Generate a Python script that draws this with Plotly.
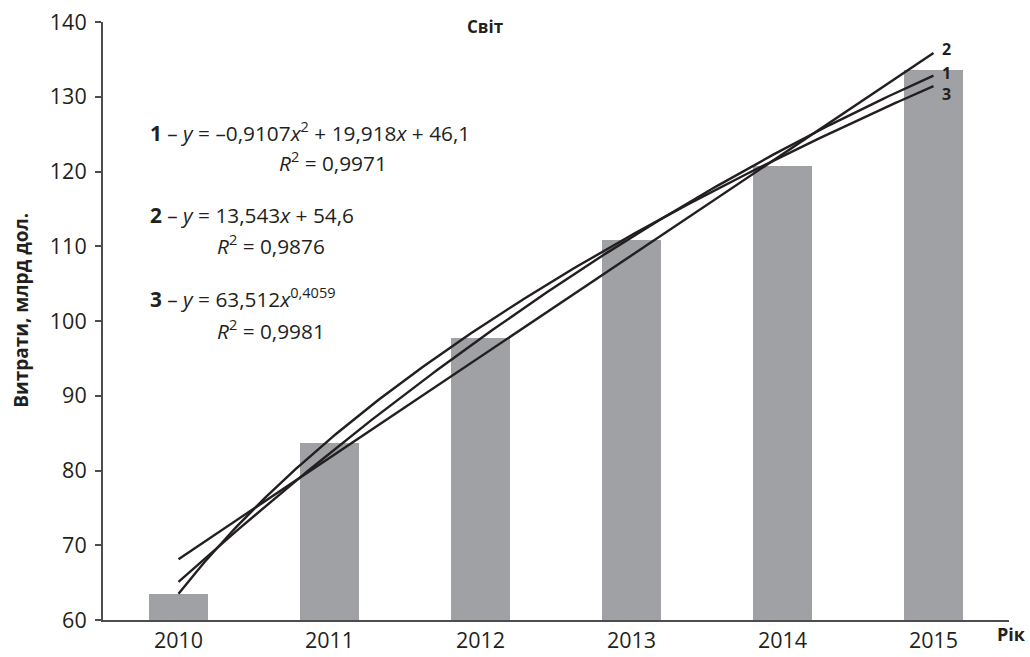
import numpy as np
import plotly.graph_objects as go

# Annual spending, bn USD
years = ["2010", "2011", "2012", "2013", "2014", "2015"]
spending = [63.5, 83.7, 97.7, 110.8, 120.7, 133.6]

# Trend-line coefficients (x = 1 for 2010 ... 6 for 2015)
poly_coef = [-0.9107, 19.918, 46.1]   # a*x^2 + b*x + c
lin_coef = [13.543, 54.6]             # k*x + b
pow_coef = [63.512, 0.4059]           # a*x^p

TXT = "#231f20"
FONT = "Open Sans"

xi = np.arange(1, len(years) + 1)
xs = np.linspace(1, len(years), 200)
y_poly = poly_coef[0] * xs**2 + poly_coef[1] * xs + poly_coef[2]
y_lin = lin_coef[0] * xs + lin_coef[1]
y_pow = pow_coef[0] * xs ** pow_coef[1]

fig = go.Figure()
fig.add_trace(go.Bar(x=xi, y=spending, width=0.39, marker_color="#a0a1a5",
                     marker_line_width=0, showlegend=False))
for yy in (y_lin, y_poly, y_pow):
    fig.add_trace(go.Scatter(x=xs, y=yy, mode="lines",
                             line=dict(color=TXT, width=2.4), showlegend=False))

ann = []
def txt(x, y, s, anchor="left", size=20.8, **kw):
    ann.append(dict(x=x, y=y, text=s, showarrow=False, xanchor=anchor,
                    yanchor="middle", font=dict(family=FONT, size=size, color=TXT), **kw))

txt(0.80, 125.4, "<b>1</b> – <i>y</i> = –0,9107<i>x</i><sup>2</sup> + 19,918<i>x</i> + 46,1")
txt(1.65, 121.3, "<i>R</i><sup>2</sup> = 0,9971")
txt(0.80, 114.2, "<b>2</b> – <i>y</i> = 13,543<i>x</i> + 54,6")
txt(1.24, 110.3, "<i>R</i><sup>2</sup> = 0,9876")
txt(0.80, 103.2, "<b>3</b> – <i>y</i> = 63,512<i>x</i><sup>0,4059</sup>")
txt(1.24, 98.9, "<i>R</i><sup>2</sup> = 0,9981")
txt(6.04, 136.4, "<b>2</b>", size=16)
txt(6.04, 133.2, "<b>1</b>", size=16)
txt(6.04, 130.4, "<b>3</b>", size=16)
txt(3.03, 139.4, "<b>Світ</b>", anchor="center", size=17)

ann.append(dict(xref="paper", yref="paper", x=1.0, xshift=19, y=0, yshift=-14,
                xanchor="right", yanchor="middle", showarrow=False, text="<b>Рік</b>",
                font=dict(family=FONT, size=18, color=TXT)))
ann.append(dict(xref="paper", yref="paper", x=-0.090, y=0.518, textangle=-90,
                xanchor="center", yanchor="middle", showarrow=False,
                text="<b>Витрати, млрд дол.</b>",
                font=dict(family=FONT, size=19, color=TXT)))

fig.update_layout(
    width=1030, height=657, margin=dict(l=103, r=21, t=22, b=37),
    plot_bgcolor="white", paper_bgcolor="white", bargap=0,
    annotations=ann,
    xaxis=dict(range=[0.5, 6.5], tickvals=list(xi), ticktext=years, showgrid=False,
               zeroline=False, showline=True, linecolor="#4d4d4f", linewidth=2,
               ticks="", automargin=False,
               tickfont=dict(family=FONT, size=21.5, color=TXT)),
    yaxis=dict(range=[60, 140], dtick=10, showgrid=False, zeroline=False,
               showline=True, linecolor="#4d4d4f", linewidth=2, ticks="outside",
               ticklen=6, tickwidth=1.5, tickcolor="#4d4d4f", ticklabelstandoff=4,
               automargin=False, tickfont=dict(family=FONT, size=21.5, color=TXT)),
)

fig.write_html("out.html")
